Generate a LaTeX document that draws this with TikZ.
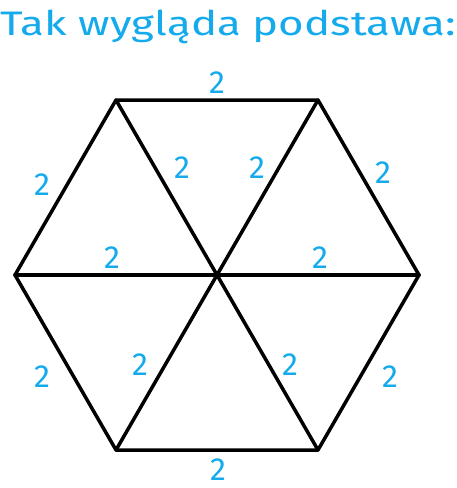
\documentclass[tikz,border=0pt]{standalone}
\usepackage{fontspec}
\setmainfont{Fira Sans}
\usepackage{xcolor}
\definecolor{napis}{RGB}{20,170,235}
\begin{document}
\begin{tikzpicture}[line cap=round,line join=round,x=1pt,y=-1pt,
    bok/.style={line width=3.5pt,color=black},
    dl/.style={color=napis,font=\fontsize{32}{32}\selectfont,inner sep=0pt}]
      \useasboundingbox (0,0) rectangle (456,488);
      % wierzcholki szesciokata
      \coordinate (S) at (217,275);
      \coordinate (A) at (15,275);
      \coordinate (B) at (116,100);
      \coordinate (C) at (318,100);
      \coordinate (D) at (419,275);
      \coordinate (E) at (318,450);
      \coordinate (F) at (116,450);
      \draw[bok] (A) -- (B) -- (C) -- (D) -- (E) -- (F) -- cycle;
      \foreach \w in {A,B,C,D,E,F}
      \draw[bok] (S) -- (\w);
      % tytul
      \node[color=napis,font=\fontsize{34}{34}\selectfont,inner sep=0pt] (tytul) at (228,27) {\scalebox{1.29}[1]{Tak wygląda podstawa:}};
      % dlugosci krawedzi
      \node[dl] (dAB) at (42,185) {2};
      \node[dl] (dBC) at (217,83) {2};
      \node[dl] (dCD) at (383,173) {2};
      \node[dl] (dDE) at (390,377) {2};
      \node[dl] (dEF) at (218,470) {2};
      \node[dl] (dFA) at (42,377) {2};
      \node[dl] (dSB) at (182,168) {2};
      \node[dl] (dSC) at (257,168) {2};
      \node[dl] (dSA) at (112,258) {2};
      \node[dl] (dSD) at (320,258) {2};
      \node[dl] (dSF) at (140,365) {2};
      \node[dl] (dSE) at (290,365) {2};
\end{tikzpicture}
\end{document}
